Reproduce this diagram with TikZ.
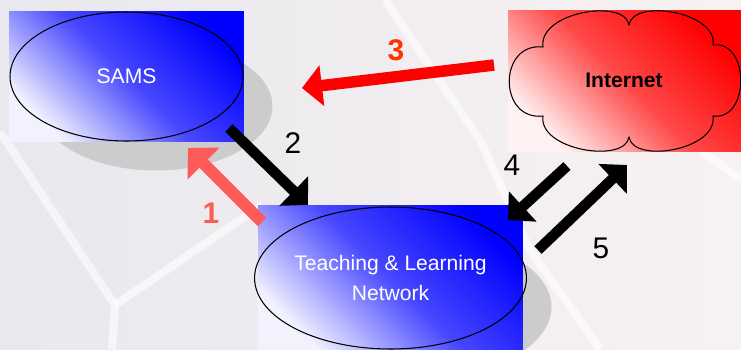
\documentclass[tikz,border=0pt]{standalone}
\usepackage{fontspec}
\setmainfont{Liberation Sans}
\usetikzlibrary{arrows.meta, shapes.geometric}
\definecolor{bgleft}{RGB}{232,232,238}
\definecolor{bgright}{RGB}{248,241,241}
\definecolor{shadowgray}{RGB}{204,204,204}
\definecolor{pinkarrow}{RGB}{255,90,90}
\definecolor{labelred}{RGB}{255,51,0}

\begin{document}
\begin{tikzpicture}[
    x=0.02cm, y=-0.02cm,
    panel/.style={rectangle, inner sep=0pt},
    bluefill/.style={top color=blue, bottom color=blue!5, middle color=blue!72, shading angle=-45},
    redfill/.style={top color=red, bottom color=red!5, middle color=red!72, shading angle=-45},
    oval/.style={ellipse, draw=black, line width=0.6pt, inner sep=0pt, align=center,
                 text=white, font=\fontsize{12}{17}\selectfont},
    shadowoval/.style={ellipse, fill=shadowgray, inner sep=0pt},
    cloudline/.style={draw=black, line width=0.6pt, line join=round},
    lattice/.style={white, line width=0.16cm, line join=round, opacity=0.6},
    flow/.style={line width=0.21cm, -{Triangle[width=0.8cm, length=0.4cm]}},
    numlabel/.style={font=\fontsize{17}{20}\selectfont},
]
    \path[use as bounding box, clip] (0,0) rectangle (741,349);
    \fill[left color=bgleft, right color=bgright] (0,0) rectangle (741,349);
    \draw[lattice] (0,132) -- (115,305) -- (112,349);
    \draw[lattice] (115,305) -- (262,205);
    \draw[lattice] (385,0) -- (480,140) -- (530,250) -- (600,349);
    \draw[lattice] (700,150) -- (741,180);

    % shadows
    \node[shadowoval, minimum width=4.66cm, minimum height=2.58cm] (samsshade) at (156,106) {};
    \node[shadowoval, minimum width=5.26cm, minimum height=2.84cm] (tlnshade) at (420,307) {};

    % SAMS
    \node[panel, bluefill, minimum width=4.7cm, minimum height=2.62cm] (samsbox) at (126.5,76.5) {};
    \node[oval, minimum width=4.66cm, minimum height=2.58cm] (sams) at (126.5,76.5) {SAMS};

    % Teaching & Learning Network
    \node[panel, bluefill, minimum width=5.3cm, minimum height=2.92cm] (tlnbox) at (390.5,278) {};
    \node[oval, minimum width=5.26cm, minimum height=2.84cm] (tln) at (390.5,278) {Teaching \& Learning\\Network};

    % Internet
    \node[panel, redfill, minimum width=4.66cm, minimum height=2.84cm] (netbox) at (624.5,81) {};
    \draw[cloudline] (543,47) .. controls (538,12) and (625,-2) .. (629,25)
        .. controls (633,-2) and (718,12) .. (713,45)
        .. controls (750,40) and (750,121) .. (713,116)
        .. controls (718,150) and (633,164) .. (629,137)
        .. controls (625,164) and (538,150) .. (543,116)
        .. controls (498,121) and (498,42) .. cycle;
    \node[font=\bfseries\fontsize{12}{14}\selectfont] (net) at (624,80) {Internet};

    % arrows
    \coordinate (t1) at (262,222); \coordinate (h1) at (188,148);
    \coordinate (t2) at (229,128); \coordinate (h2) at (308,205);
    \coordinate (t3) at (494,65);  \coordinate (h3) at (302,88);
    \coordinate (t4) at (567,166); \coordinate (h4) at (508,220);
    \coordinate (t5) at (538,250); \coordinate (h5) at (627,165);

    \draw[flow, pinkarrow, line width=0.24cm, -{Triangle[width=0.88cm, length=0.44cm]}] (t1) -- (h1);
    \draw[flow, black] (t2) -- (h2);
    \draw[flow, red, line width=0.23cm] (t3) -- (h3);
    \draw[flow, black] (t4) -- (h4);
    \draw[flow, black] (t5) -- (h5);

    \node[numlabel, pinkarrow, font=\bfseries\fontsize{17}{20}\selectfont] (n1) at (211,213) {1};
    \node[numlabel] (n2) at (293,143) {2};
    \node[numlabel, labelred, font=\bfseries\fontsize{17}{20}\selectfont] (n3) at (396,50) {3};
    \node[numlabel] (n4) at (512,165) {4};
    \node[numlabel] (n5) at (601,248) {5};
\end{tikzpicture}
\end{document}
